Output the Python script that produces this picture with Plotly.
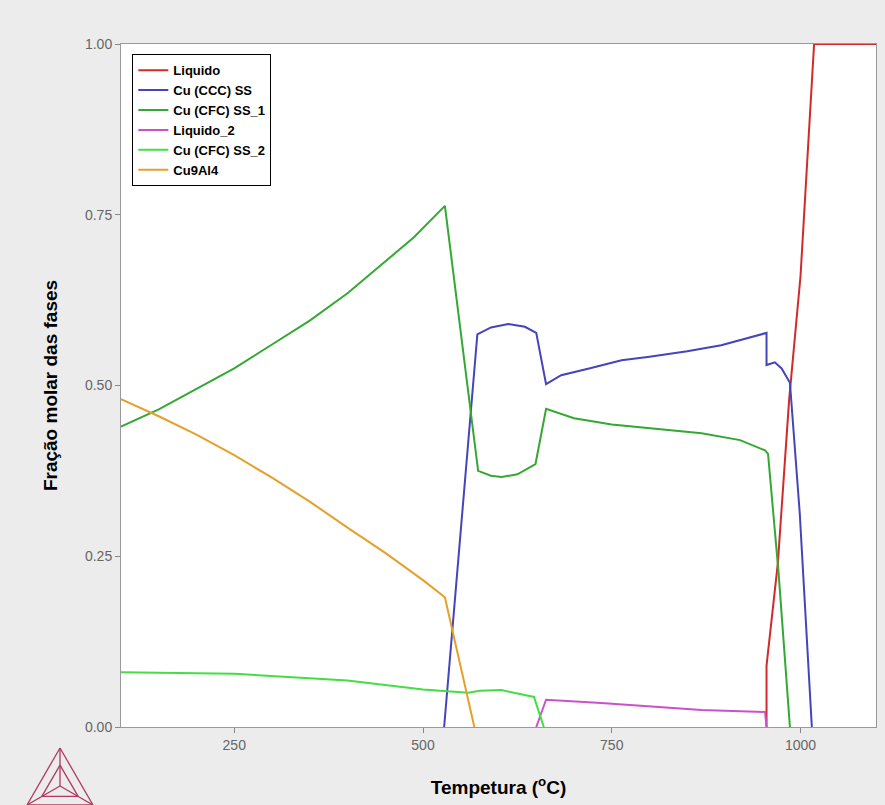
import plotly.graph_objects as go

# ---- data (temperature in °C, molar fraction) ----
liq_T = [955, 955, 970, 985, 1000, 1018, 1100]
liq_f = [0.0, 0.09, 0.24, 0.48, 0.66, 1.0, 1.0]

ccc_T = [528, 572, 590, 613, 635, 650, 663, 683, 720, 763, 800, 850, 895, 955, 955, 966, 975, 986, 999, 1015]
ccc_f = [0.0, 0.575, 0.585, 0.590, 0.586, 0.577, 0.502, 0.515, 0.525, 0.537, 0.542, 0.550, 0.559, 0.577, 0.530, 0.534, 0.525, 0.504, 0.313, 0.0]

cfc1_T = [100, 150, 200, 250, 300, 350, 400, 444, 488, 529, 543, 573, 590, 604, 625, 649, 663, 700, 750, 800, 869, 920, 953, 957, 971, 986]
cfc1_f = [0.44, 0.465, 0.495, 0.525, 0.56, 0.595, 0.635, 0.676, 0.717, 0.763, 0.64, 0.375, 0.368, 0.366, 0.370, 0.385, 0.466, 0.452, 0.443, 0.438, 0.430, 0.420, 0.405, 0.40, 0.225, 0.0]

liq2_T = [650, 663, 736, 800, 869, 953, 955]
liq2_f = [0.0, 0.040, 0.035, 0.030, 0.025, 0.022, 0.0]

cfc2_T = [100, 250, 400, 500, 560, 575, 604, 647, 660]
cfc2_f = [0.080, 0.078, 0.068, 0.055, 0.050, 0.053, 0.054, 0.044, 0.0]

cu9_T = [100, 150, 200, 250, 300, 350, 400, 450, 500, 529, 568]
cu9_f = [0.48, 0.455, 0.428, 0.398, 0.365, 0.33, 0.292, 0.255, 0.215, 0.19, 0.0]

x_ticks = [250, 500, 750, 1000]
y_ticks = [0.0, 0.25, 0.5, 0.75, 1.0]

series = [
    ("Liquido", liq_T, liq_f, "#d02a2a"),
    ("Cu (CCC) SS", ccc_T, ccc_f, "#4444bb"),
    ("Cu (CFC) SS_1", cfc1_T, cfc1_f, "#33a833"),
    ("Liquido_2", liq2_T, liq2_f, "#cc4fcc"),
    ("Cu (CFC) SS_2", cfc2_T, cfc2_f, "#44dd44"),
    ("Cu9Al4", cu9_T, cu9_f, "#e5a02a"),
]

fig = go.Figure()
for name, xs, ys, col in series:
    fig.add_trace(go.Scatter(x=xs, y=ys, mode="lines", name=name,
                             line=dict(color=col, width=2)))

W, H = 885, 805
L, R, T, B = 121, 9, 44, 78

def px(x):
    return (x - L) / (W - L - R)

def py(y):
    return (H - B - y) / (H - T - B)

# Thermo-Calc style logo (decoration)
logo_col = "#b03a60"
apex = (60, 748)
bl = (27, 805)
br = (93, 805)
cen = (60, 786)
def mid(a, b, t):
    return (a[0] + (b[0] - a[0]) * t, a[1] + (b[1] - a[1]) * t)
ia, ib, ic = mid(cen, apex, 0.55), mid(cen, bl, 0.55), mid(cen, br, 0.55)
segs = [(apex, bl), (bl, br), (br, apex), (apex, cen), (bl, cen), (br, cen),
        (ia, ib), (ib, ic), (ic, ia)]
shapes = []
for a, b in segs:
    shapes.append(dict(type="line", xref="paper", yref="paper",
                       x0=px(a[0]), y0=py(a[1]), x1=px(b[0]), y1=py(b[1]),
                       line=dict(color=logo_col, width=1.3)))

fig.update_layout(
    width=W, height=H,
    margin=dict(l=L, r=R, t=T, b=B),
    paper_bgcolor="#ececec",
    plot_bgcolor="#ffffff",
    font=dict(family="Liberation Sans, Arial, sans-serif", color="#000000"),
    showlegend=True,
    legend=dict(x=0.015, y=0.985, xanchor="left", yanchor="top",
                bgcolor="#ffffff", bordercolor="#000000", borderwidth=1,
                font=dict(size=13, color="#000000", weight="bold"),
                itemwidth=30, tracegroupgap=0),
    shapes=shapes,
    xaxis=dict(range=[100, 1100], tickvals=x_ticks, ticks="outside", ticklen=5,
               tickcolor="#888888", showline=True, linecolor="#999999", mirror=True,
               showgrid=False, zeroline=False,
               tickfont=dict(size=14, color="#666666"),
               title=dict(text="<b>Tempetura (<sup>o</sup>C)</b>",
                          font=dict(size=19, color="#000000"), standoff=28)),
    yaxis=dict(range=[0, 1], tickvals=y_ticks, tickformat=".2f", ticks="outside",
               ticklen=5, tickcolor="#888888", showline=True, linecolor="#999999",
               mirror=True, showgrid=False, zeroline=False,
               tickfont=dict(size=14, color="#666666"),
               title=dict(text="<b>Fração molar das fases</b>",
                          font=dict(size=19, color="#000000"), standoff=22)),
)

fig.write_html("out.html")
